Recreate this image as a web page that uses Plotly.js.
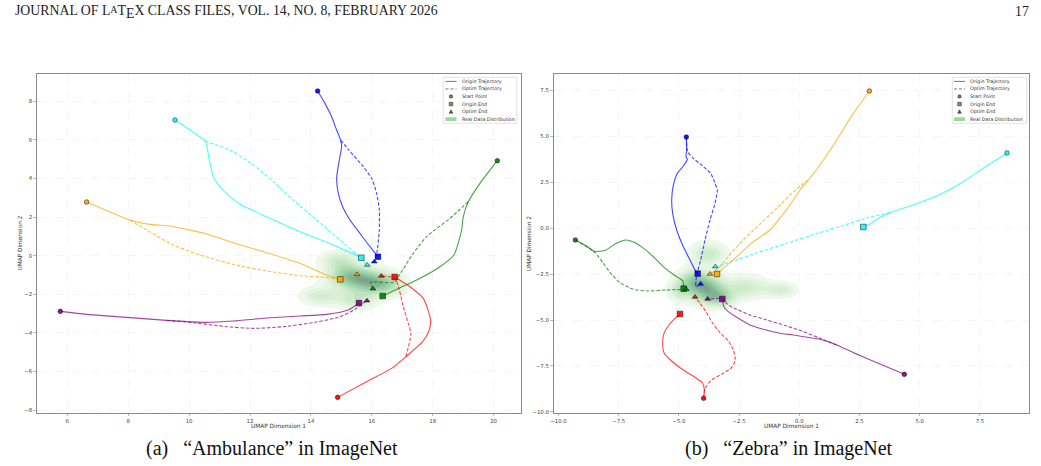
<!DOCTYPE html>
<html><head><meta charset="utf-8">
<script src="https://cdn.plot.ly/plotly-3.0.1.min.js"></script>
<style>body{margin:0;background:#fff}#chart{width:1041px;height:466px}</style>
</head><body><div id="chart"></div>
<script>
// ---------- (a) "Ambulance" trajectories: [UMAP1, UMAP2] ----------
const ambCyanOrig = [[9.536,7.029],[10.521,5.941],[10.576,5.734],[10.663,4.957],[10.795,4.093],[11.014,3.575],[11.342,3.057],[11.725,2.625],[12.546,2.021],[13.641,1.244],[14.736,0.553],[15.655,-0.104]];
const ambCyanOptim = [[10.521,5.941],[11.452,5.389],[12.108,4.698],[12.765,3.834],[13.422,2.884],[14.188,1.848],[14.955,0.812],[15.502,0.069],[15.852,-0.484]];
const ambBlueOrig = [[14.221,8.532],[14.462,7.893],[14.681,7.202],[14.845,6.511],[14.976,5.993],[15.009,5.648],[14.933,4.957],[14.845,4.007],[14.900,3.230],[15.042,2.539],[15.283,1.848],[15.611,1.157],[15.940,0.466],[16.203,-0.052]];
const ambBlueOptim = [[14.976,5.993],[15.228,5.509],[15.721,4.611],[15.995,4.007],[16.159,3.230],[16.246,2.366],[16.246,1.330],[16.181,0.294],[16.082,-0.311]];
const ambOrangeOrig = [[6.635,2.781],[8.058,1.848],[8.715,1.623],[9.372,1.537],[9.919,1.364],[10.576,1.123],[11.452,0.674],[12.546,0.155],[13.641,-0.397],[14.517,-1.002],[14.966,-1.226]];
const ambOrangeOptim = [[8.058,1.848],[8.605,1.330],[9.481,0.553],[10.357,0.035],[11.452,-0.449],[12.546,-0.794],[13.641,-1.036],[14.517,-1.123],[15.173,-1.226],[15.338,-1.054],[15.513,-0.967]];
const ambPurpleOrig = [[5.770,-2.884],[6.635,-3.040],[7.949,-3.195],[9.262,-3.351],[10.576,-3.454],[11.452,-3.385],[12.546,-3.230],[13.641,-3.126],[14.517,-3.040],[15.228,-2.815],[15.579,-2.453]];
const ambPurpleOptim = [[9.262,-3.351],[10.138,-3.472],[11.233,-3.679],[12.108,-3.765],[13.094,-3.679],[14.188,-3.437],[14.955,-3.161],[15.447,-2.781],[15.666,-2.504],[15.841,-2.332]];
const ambGreenOrig = [[20.122,4.922],[19.553,3.748],[19.169,2.798],[19.005,2.021],[18.950,1.330],[18.698,0.035],[18.239,-0.570],[17.472,-1.261],[16.925,-1.658],[16.356,-2.090]];
const ambGreenOptim = [[19.169,2.798],[18.567,1.934],[17.801,0.984],[17.363,0.121],[16.870,-1.088],[16.739,-1.382],[15.962,-1.382],[16.038,-1.710]];
const ambRedOrig = [[14.878,-7.340],[15.830,-6.528],[16.651,-5.838],[17.122,-5.233],[17.669,-4.456],[17.888,-3.851],[17.932,-3.333],[17.691,-2.211],[17.253,-1.606],[16.750,-1.105]];
const ambRedOptim = [[17.122,-5.233],[17.253,-4.370],[17.286,-4.024],[17.199,-3.506],[17.035,-2.642],[16.903,-1.779],[16.794,-1.261],[16.597,-1.088],[16.312,-1.054]];

// ---------- (b) "Zebra" trajectories ----------
const zebOrangeOrig = [[2.908,7.477],[2.244,6.261],[1.552,4.809],[0.860,3.448],[0.375,2.630],[0.029,2.085],[-0.248,1.542],[-0.594,0.906],[-1.217,-0.093],[-1.909,-0.728],[-2.601,-1.545],[-3.155,-2.180],[-3.418,-2.489]];
const zebOrangeOptim = [[0.375,2.630],[0.029,2.304],[-0.386,1.814],[-0.940,1.088],[-1.632,0.234],[-2.324,-0.637],[-3.016,-1.635],[-3.362,-2.180],[-3.709,-2.489]];
const zebCyanOrig = [[8.624,4.103],[7.780,3.393],[6.811,2.540],[5.704,1.760],[4.596,1.215],[3.766,0.852],[3.281,0.543],[2.935,0.234],[2.658,0.071]];
const zebCyanOptim = [[3.766,0.852],[2.866,0.597],[2.104,0.271],[0.860,-0.235],[-0.525,-0.819],[-1.909,-1.400],[-3.016,-1.908],[-3.488,-2.090]];
const zebBlueOrig = [[-4.692,4.971],[-4.678,4.263],[-4.705,3.900],[-4.650,3.755],[-4.816,3.392],[-5.065,2.993],[-5.231,2.357],[-5.300,1.542],[-5.259,0.815],[-5.093,-0.093],[-4.816,-1.001],[-4.539,-1.727],[-4.331,-2.271],[-4.221,-2.470]];
const zebBlueOptim = [[-4.692,4.971],[-4.637,4.173],[-4.401,3.810],[-4.013,3.393],[-3.681,2.994],[-3.501,2.449],[-3.404,2.085],[-3.501,1.359],[-3.709,0.452],[-3.916,-0.637],[-4.096,-1.726],[-4.262,-2.543],[-4.290,-3.177],[-4.097,-3.033]];
const zebGreenOrig = [[-9.302,-0.635],[-8.831,-0.964],[-8.485,-1.272],[-8.028,-1.182],[-7.655,-0.855],[-7.198,-0.637],[-6.823,-0.783],[-6.408,-1.146],[-5.993,-1.636],[-5.619,-2.126],[-5.204,-2.544],[-4.844,-2.852],[-4.802,-3.287]];
const zebGreenOptim = [[-9.302,-0.635],[-8.485,-1.327],[-8.139,-1.908],[-7.834,-2.451],[-7.447,-2.960],[-6.893,-3.322],[-6.339,-3.413],[-5.509,-3.360],[-4.691,-3.323]];
const zebRedOrig = [[-3.973,-9.261],[-3.945,-8.807],[-4.014,-8.444],[-4.332,-8.117],[-4.816,-7.718],[-5.301,-7.228],[-5.619,-6.774],[-5.674,-6.266],[-5.619,-5.721],[-5.411,-5.268],[-5.162,-4.904],[-4.955,-4.668]];
const zebRedOptim = [[-3.973,-9.261],[-3.916,-8.716],[-3.640,-8.262],[-3.155,-7.899],[-2.809,-7.572],[-2.657,-7.172],[-2.740,-6.627],[-2.948,-6.137],[-3.294,-5.683],[-3.598,-5.174],[-3.875,-4.538],[-4.124,-4.084],[-4.332,-3.740]];
const zebPurpleOrig = [[4.362,-7.954],[3.351,-7.389],[2.244,-6.772],[1.552,-6.355],[0.860,-6.046],[0.445,-5.957],[-0.248,-5.812],[-0.802,-5.721],[-1.494,-5.503],[-2.048,-5.267],[-2.533,-4.904],[-2.948,-4.541],[-3.128,-4.268],[-3.197,-3.849]];
const zebPurpleOptim = [[1.552,-6.355],[0.860,-5.991],[0.168,-5.628],[-0.525,-5.320],[-1.355,-4.993],[-2.048,-4.720],[-2.602,-4.412],[-2.948,-4.176],[-3.197,-3.849],[-3.806,-3.849]];

// ---------- Real data distribution (KDE kernel centres) ----------
const ambKdeX = [15.75, 15.2, 16.4, 14.95, 14.3, 15.5];
const ambKdeY = [-1.3, -0.95, -1.55, -0.25, -2.1, -2.3];
const ambKdeSx = [0.62, 0.45, 0.45, 0.42, 0.42, 0.45];
const ambKdeSy = [0.42, 0.36, 0.36, 0.32, 0.32, 0.32];
const ambKdeW = [1.0, 0.6, 0.6, 0.5, 0.45, 0.5];
const zebKdeX = [-3.85, -4.4, -3.3, -3.78, -2.2, -0.8, -5.0];
const zebKdeY = [-3.3, -2.8, -3.8, -1.4, -3.2, -3.35, -3.4];
const zebKdeSx = [0.55, 0.42, 0.42, 0.5, 0.55, 0.45, 0.32];
const zebKdeSy = [0.5, 0.42, 0.32, 0.42, 0.42, 0.28, 0.38];
const zebKdeW = [1.0, 0.6, 0.6, 0.5, 0.45, 0.4, 0.4];

const legendLabels = ['Origin Trajectory','Optim Trajectory','Start Point','Origin End','Optim End','Real Data Distribution'];
const captionA = '(a)\u2002 \u201cAmbulance\u201d in ImageNet';
const captionB = '(b)\u2002 \u201cZebra\u201d in ImageNet';

const COL = {cyan:'0,255,255', blue:'0,0,255', orange:'255,165,0', purple:'128,0,128', green:'0,128,0', red:'255,0,0'};

const W = 1041, H = 466;
const px = x => x / W, py = y => 1 - y / H;

const traces = [];

function kde(xs, ys, sx, sy, w, x0, x1, y0, y1, xa, ya) {
  const gx = [], gy = [], z = [];
  const n = 140;
  for (let i = 0; i <= n; i++) gx.push(x0 + (x1 - x0) * i / n);
  for (let j = 0; j <= n; j++) gy.push(y0 + (y1 - y0) * j / n);
  let mx = 0;
  for (let j = 0; j <= n; j++) {
    const row = [];
    for (let i = 0; i <= n; i++) {
      let v = 0;
      for (let k = 0; k < xs.length; k++) {
        const dx = (gx[i] - xs[k]) / sx[k], dy = (gy[j] - ys[k]) / sy[k];
        v += w[k] * Math.exp(-0.5 * (dx * dx + dy * dy));
      }
      row.push(v); if (v > mx) mx = v;
    }
    z.push(row);
  }
  for (const r of z) for (let i = 0; i < r.length; i++) r[i] /= mx;
  traces.push({
    type: 'contour', x: gx, y: gy, z: z, xaxis: xa, yaxis: ya,
    zmin: 0, zmax: 1, showscale: false, hoverinfo: 'skip', opacity: 0.5,
    contours: {start: 0.07, end: 0.97, size: 0.09, coloring: 'fill', showlines: false},
    line: {width: 0},
    colorscale: [[0,'rgba(255,255,255,0)'],[0.055,'rgba(255,255,255,0)'],[0.06,'#e5f5e0'],
      [0.2,'#c7e9c0'],[0.35,'#a1d99b'],[0.5,'#74c476'],
      [0.65,'#41ab5d'],[0.8,'#238b45'],[0.9,'#006d2c'],[1,'#00441b']]
  });
}

function traj(orig, optim, c, xa, ya) {
  const lc = 'rgba(' + c + ',0.72)';
  traces.push({type:'scatter', mode:'lines', x: orig.map(p=>p[0]), y: orig.map(p=>p[1]), xaxis: xa, yaxis: ya,
    line:{color: lc, width: 1.1, shape:'spline', smoothing:0.6}, showlegend:false, hoverinfo:'skip'});
  traces.push({type:'scatter', mode:'lines', x: optim.map(p=>p[0]), y: optim.map(p=>p[1]), xaxis: xa, yaxis: ya,
    line:{color: lc, width: 1.1, dash:'3.5px,1.8px', shape:'spline', smoothing:0.6}, showlegend:false, hoverinfo:'skip'});
  const s = orig[0], oe = orig[orig.length-1], pe = optim[optim.length-1];
  const mk = (p, sym, size) => traces.push({type:'scatter', mode:'markers', x:[p[0]], y:[p[1]], xaxis: xa, yaxis: ya,
    marker:{symbol: sym, size: size, color: 'rgba(' + c + ',0.9)', line:{color:'rgba(0,0,0,0.8)', width:0.6}},
    showlegend:false, hoverinfo:'skip'});
  mk(s, 'circle', 4.6); mk(oe, 'square', 5.6); mk(pe, 'triangle-up', 5);
}

kde(ambKdeX, ambKdeY, ambKdeSx, ambKdeSy, ambKdeW, 12.8, 18.6, -4.4, 1.8, 'x', 'y');
kde(zebKdeX, zebKdeY, zebKdeSx, zebKdeSy, zebKdeW, -6.6, 1.2, -5.4, 0.8, 'x2', 'y2');

traj(ambCyanOrig, ambCyanOptim, COL.cyan, 'x', 'y');
traj(ambBlueOrig, ambBlueOptim, COL.blue, 'x', 'y');
traj(ambOrangeOrig, ambOrangeOptim, COL.orange, 'x', 'y');
traj(ambPurpleOrig, ambPurpleOptim, COL.purple, 'x', 'y');
traj(ambGreenOrig, ambGreenOptim, COL.green, 'x', 'y');
traj(ambRedOrig, ambRedOptim, COL.red, 'x', 'y');

traj(zebOrangeOrig, zebOrangeOptim, COL.orange, 'x2', 'y2');
traj(zebCyanOrig, zebCyanOptim, COL.cyan, 'x2', 'y2');
traj(zebBlueOrig, zebBlueOptim, COL.blue, 'x2', 'y2');
traj(zebGreenOrig, zebGreenOptim, COL.green, 'x2', 'y2');
traj(zebRedOrig, zebRedOptim, COL.red, 'x2', 'y2');
traj(zebPurpleOrig, zebPurpleOptim, COL.purple, 'x2', 'y2');

const tickFont = {family:'DejaVu Sans', size:5.4, color:'#444'};
const axBase = {showline:true, mirror:true, linecolor:'#8a8a8a', linewidth:1, ticks:'outside', ticklen:2.5,
  tickcolor:'#8a8a8a', tickwidth:0.6, tickfont: tickFont, showgrid:true, gridcolor:'#eeeeee', gridwidth:0.6,
  griddash:'dash', zeroline:false, automargin:false};

const yTop = py(74.3), yBot = py(412.7);

const shapes = [], annotations = [];

function legend(bx0, bx1, by0, by1, hx0, hx1, tx) {
  shapes.push({type:'rect', xref:'paper', yref:'paper', x0:px(bx0), x1:px(bx1), y0:py(by1), y1:py(by0),
    line:{color:'#d0d0d0', width:0.6}, fillcolor:'rgba(255,255,255,0.85)', layer:'above'});
  const hc = (hx0 + hx1) / 2;
  legendLabels.forEach((lab, i) => {
    const yc = by0 + 4.1 + i * 7.55;
    if (i === 0) shapes.push({type:'line', xref:'paper', yref:'paper', x0:px(hx0), x1:px(hx1), y0:py(yc), y1:py(yc), line:{color:'#777', width:1}, layer:'above'});
    if (i === 1) shapes.push({type:'line', xref:'paper', yref:'paper', x0:px(hx0), x1:px(hx1), y0:py(yc), y1:py(yc), line:{color:'#777', width:1, dash:'3px,2px'}, layer:'above'});
    if (i === 2) shapes.push({type:'circle', xref:'paper', yref:'paper', x0:px(hc-1.7), x1:px(hc+1.7), y0:py(yc+1.7), y1:py(yc-1.7), fillcolor:'#777', line:{color:'#222', width:0.5}, layer:'above'});
    if (i === 3) shapes.push({type:'rect', xref:'paper', yref:'paper', x0:px(hc-1.8), x1:px(hc+1.8), y0:py(yc+1.8), y1:py(yc-1.8), fillcolor:'#888', line:{color:'#222', width:0.5}, layer:'above'});
    if (i === 4) shapes.push({type:'path', xref:'paper', yref:'paper',
      path:'M'+px(hc-1.9)+','+py(yc+1.7)+' L'+px(hc+1.9)+','+py(yc+1.7)+' L'+px(hc)+','+py(yc-1.9)+' Z', fillcolor:'#555', line:{color:'#222', width:0.4}, layer:'above'});
    if (i === 5) shapes.push({type:'rect', xref:'paper', yref:'paper', x0:px(hx0), x1:px(hx1), y0:py(yc+1.9), y1:py(yc-1.9), fillcolor:'rgba(130,200,130,0.75)', line:{width:0}, layer:'above'});
    annotations.push({xref:'paper', yref:'paper', x:px(tx), y:py(yc), xanchor:'left', yanchor:'middle', showarrow:false,
      text: lab, font:{family:'DejaVu Sans', size:4.8, color:'#333'}});
  });
}
legend(443.3, 516.7, 77.3, 123.3, 445.5, 456.5, 459.5);
legend(952.3, 1026.7, 77.3, 123.3, 954, 965, 967.8);

const titleFont = {family:'DejaVu Sans', size:5.8, color:'#333'};
annotations.push({xref:'paper', yref:'paper', x:px(278.7), y:py(425.5), text:'UMAP Dimension 1', showarrow:false, xanchor:'center', yanchor:'middle', font:titleFont});
annotations.push({xref:'paper', yref:'paper', x:px(791.4), y:py(425.5), text:'UMAP Dimension 1', showarrow:false, xanchor:'center', yanchor:'middle', font:titleFont});
annotations.push({xref:'paper', yref:'paper', x:px(20), y:py(243.5), text:'UMAP Dimension 2', showarrow:false, textangle:-90, xanchor:'center', yanchor:'middle', font:titleFont});
annotations.push({xref:'paper', yref:'paper', x:px(529.5), y:py(243.5), text:'UMAP Dimension 2', showarrow:false, textangle:-90, xanchor:'center', yanchor:'middle', font:titleFont});

const serif = 'Liberation Serif, Times New Roman, serif';
annotations.push({xref:'paper', yref:'paper', x:px(13), y:py(12), xanchor:'left', yanchor:'middle', showarrow:false,
  text:'JOURNAL OF L<span style="font-size:10px;baseline-shift:2.5px">A</span>T<span style="baseline-shift:-3px">E</span>X CLASS FILES, VOL. 14, NO. 8, FEBRUARY 2026', font:{family:serif, size:13.8, color:'#222'}});
annotations.push({xref:'paper', yref:'paper', x:px(1031), y:py(12), xanchor:'right', yanchor:'middle', showarrow:false,
  text:'17', font:{family:serif, size:13.8, color:'#222'}});
annotations.push({xref:'paper', yref:'paper', x:px(272), y:py(448), xanchor:'center', yanchor:'middle', showarrow:false,
  text: captionA, font:{family:serif, size:20, color:'#111'}});
annotations.push({xref:'paper', yref:'paper', x:px(789), y:py(448), xanchor:'center', yanchor:'middle', showarrow:false,
  text: captionB, font:{family:serif, size:20, color:'#111'}});

const layout = {
  width: W, height: H, margin:{l:0, r:0, t:0, b:0}, paper_bgcolor:'#fff', plot_bgcolor:'#fff', showlegend:false,
  xaxis: Object.assign({}, axBase, {domain:[px(36.7), px(520.7)], range:[4.995, 20.89], tickvals:[6,8,10,12,14,16,18,20], anchor:'y'}),
  yaxis: Object.assign({}, axBase, {domain:[yBot, yTop], range:[-8.135, 9.399], tickvals:[-8,-6,-4,-2,0,2,4,6,8], anchor:'x'}),
  xaxis2: Object.assign({}, axBase, {domain:[px(553.5), px(1029.3)], range:[-10.208, 9.551], tickvals:[-10,-7.5,-5,-2.5,0,2.5,5,7.5], tickformat:'.1f', anchor:'y2'}),
  yaxis2: Object.assign({}, axBase, {domain:[yBot, yTop], range:[-10.044, 8.388], tickvals:[-10,-7.5,-5,-2.5,0,2.5,5,7.5], tickformat:'.1f', anchor:'x2'}),
  shapes: shapes, annotations: annotations
};

Plotly.newPlot('chart', traces, layout, {staticPlot:true, displayModeBar:false});
</script></body></html>
